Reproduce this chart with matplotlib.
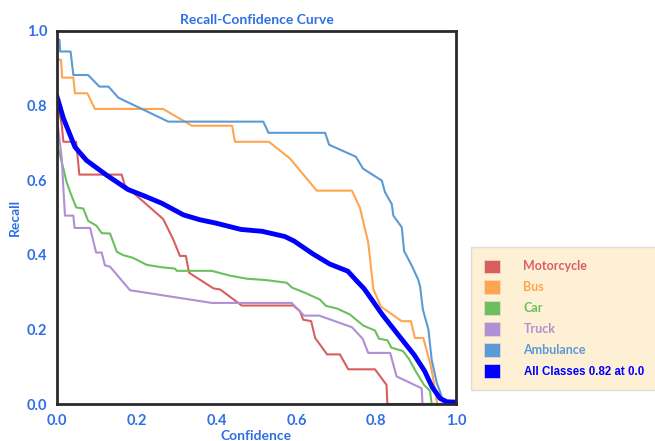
import numpy as np
import matplotlib
matplotlib.use("Agg")
import matplotlib.pyplot as plt
from matplotlib.patches import Patch

# Recall-confidence curves, values
motorcycle_x = [0.0, 0.003, 0.012, 0.016, 0.048, 0.056, 0.162, 0.170, 0.266, 0.291, 0.308, 0.323,
                0.331, 0.392, 0.409, 0.463, 0.592, 0.609, 0.617, 0.637, 0.647, 0.677, 0.709, 0.730,
                0.797, 0.826, 0.828, 1.0]
motorcycle_y = [0.80, 0.801, 0.747, 0.703, 0.703, 0.615, 0.615, 0.586, 0.496, 0.442, 0.397, 0.397,
                0.352, 0.310, 0.307, 0.264, 0.264, 0.249, 0.226, 0.222, 0.177, 0.133, 0.133, 0.093,
                0.093, 0.051, 0.0, 0.0]

bus_x = [0.0, 0.010, 0.013, 0.041, 0.045, 0.076, 0.095, 0.266, 0.338, 0.439, 0.446, 0.531, 0.584,
         0.651, 0.739, 0.759, 0.780, 0.793, 0.812, 0.864, 0.887, 0.897, 0.918, 0.937, 0.947, 0.952,
         0.954, 1.0]
bus_y = [0.923, 0.923, 0.875, 0.875, 0.833, 0.833, 0.791, 0.791, 0.746, 0.746, 0.703, 0.703, 0.658,
         0.572, 0.572, 0.527, 0.433, 0.307, 0.261, 0.222, 0.222, 0.177, 0.177, 0.102, 0.043, 0.005,
         0.0, 0.0]

car_x = [0.0, 0.003, 0.016, 0.024, 0.033, 0.048, 0.066, 0.078, 0.099, 0.112, 0.133, 0.150, 0.166,
         0.190, 0.225, 0.266, 0.296, 0.300, 0.388, 0.434, 0.475, 0.526, 0.576, 0.589, 0.622, 0.659,
         0.674, 0.702, 0.734, 0.768, 0.797, 0.807, 0.828, 0.838, 0.867, 0.882, 0.900, 0.920, 0.935,
         0.939, 1.0]
car_y = [0.739, 0.685, 0.631, 0.595, 0.568, 0.527, 0.524, 0.491, 0.478, 0.458, 0.457, 0.408, 0.399,
         0.392, 0.373, 0.366, 0.363, 0.357, 0.357, 0.344, 0.336, 0.332, 0.325, 0.312, 0.298, 0.280,
         0.263, 0.256, 0.240, 0.210, 0.197, 0.175, 0.171, 0.151, 0.142, 0.121, 0.086, 0.051, 0.035,
         0.0, 0.0]

truck_x = [0.0, 0.003, 0.012, 0.016, 0.020, 0.041, 0.044, 0.083, 0.098, 0.112, 0.120, 0.133, 0.183,
           0.388, 0.588, 0.619, 0.657, 0.739, 0.766, 0.780, 0.835, 0.851, 0.914, 0.916, 1.0]
truck_y = [0.76, 0.739, 0.658, 0.577, 0.505, 0.505, 0.472, 0.472, 0.406, 0.406, 0.372, 0.368, 0.305,
           0.271, 0.271, 0.237, 0.237, 0.206, 0.175, 0.137, 0.137, 0.074, 0.042, 0.0, 0.0]

ambulance_x = [0.0, 0.006, 0.008, 0.034, 0.041, 0.078, 0.106, 0.129, 0.154, 0.279, 0.517, 0.530,
               0.672, 0.682, 0.749, 0.767, 0.814, 0.822, 0.839, 0.843, 0.864, 0.870, 0.890, 0.905,
               0.910, 0.917, 0.931, 0.939, 0.952, 0.960, 0.968, 0.972, 1.0]
ambulance_y = [0.977, 0.977, 0.945, 0.945, 0.882, 0.882, 0.851, 0.851, 0.821, 0.757, 0.757, 0.727,
               0.727, 0.695, 0.663, 0.631, 0.599, 0.568, 0.536, 0.505, 0.474, 0.410, 0.369, 0.334,
               0.315, 0.253, 0.199, 0.119, 0.056, 0.033, 0.006, 0.0, 0.0]

all_x = [0.0, 0.016, 0.045, 0.074, 0.125, 0.178, 0.216, 0.263, 0.317, 0.358, 0.398, 0.461, 0.514,
         0.571, 0.594, 0.642, 0.684, 0.729, 0.752, 0.769, 0.789, 0.815, 0.860, 0.895, 0.921, 0.940,
         0.960, 0.977, 1.0]
all_y = [0.824, 0.766, 0.689, 0.653, 0.613, 0.575, 0.559, 0.538, 0.507, 0.494, 0.485, 0.468, 0.463,
         0.449, 0.437, 0.402, 0.375, 0.356, 0.329, 0.310, 0.280, 0.240, 0.179, 0.132, 0.089, 0.046,
         0.015, 0.006, 0.005]

names = ["Motorcycle", "Bus", "Car", "Truck", "Ambulance", "All Classes 0.82 at 0.0"]
colors = ["#d95f5f", "#ffa54f", "#6cbf5f", "#b08fd4", "#5b9bd5", "#0000ff"]
text_blue = "#2f6fe4"

plt.rcParams['font.family'] = ['Lato', 'DejaVu Sans']

fig = plt.figure(figsize=(6.55, 4.41), dpi=100)
ax = fig.add_axes([57 / 655, 37 / 441, 399 / 655, 373 / 441])

curves = [(motorcycle_x, motorcycle_y), (bus_x, bus_y), (car_x, car_y),
          (truck_x, truck_y), (ambulance_x, ambulance_y)]
for (xs, ys), c in zip(curves, colors[:5]):
    ax.plot(xs, ys, color=c, lw=1.5)
ax.plot(all_x, all_y, color=colors[5], lw=3.5, solid_joinstyle='round')

ax.set_xlim(0, 1.0)
ax.set_ylim(0, 1.0)
ax.set_xticks([0, 0.2, 0.4, 0.6, 0.8, 1.0])
ax.set_yticks([0, 0.2, 0.4, 0.6, 0.8, 1.0])
ax.tick_params(length=0, pad=7, labelcolor=text_blue, labelsize=10.5)
for lbl in ax.get_xticklabels() + ax.get_yticklabels():
    lbl.set_fontweight('bold')
for s in ax.spines.values():
    s.set_color('#2a2a2a')
    s.set_linewidth(2)

ax.set_title("Recall-Confidence Curve", color=text_blue, fontweight='bold', fontsize=10, pad=5)
ax.set_xlabel("Confidence", color=text_blue, fontweight='bold', fontsize=10, labelpad=2)
ax.set_ylabel("Recall", color=text_blue, fontweight='bold', fontsize=10, labelpad=4)

handles = [Patch(facecolor=c, edgecolor='#f4d9d0', lw=0.5) for c in colors]
leg = fig.legend(handles, names, loc='upper left', bbox_to_anchor=(471 / 655, 1 - 247 / 441),
                 frameon=True, fancybox=False, facecolor='#fdf0d5', edgecolor='#dddddd',
                 fontsize=9, handlelength=1.3, handleheight=1.3, handletextpad=1.9,
                 labelspacing=0.58, borderpad=1.0, borderaxespad=0)
leg.get_frame().set_alpha(1)
for t, c in zip(leg.get_texts(), colors):
    t.set_color(c)
    t.set_fontweight('bold')
last = leg.get_texts()[-1]
last.set_family(['Liberation Sans', 'DejaVu Sans'])
last.set_fontsize(8.3)

fig.savefig("out.png", dpi=100)
